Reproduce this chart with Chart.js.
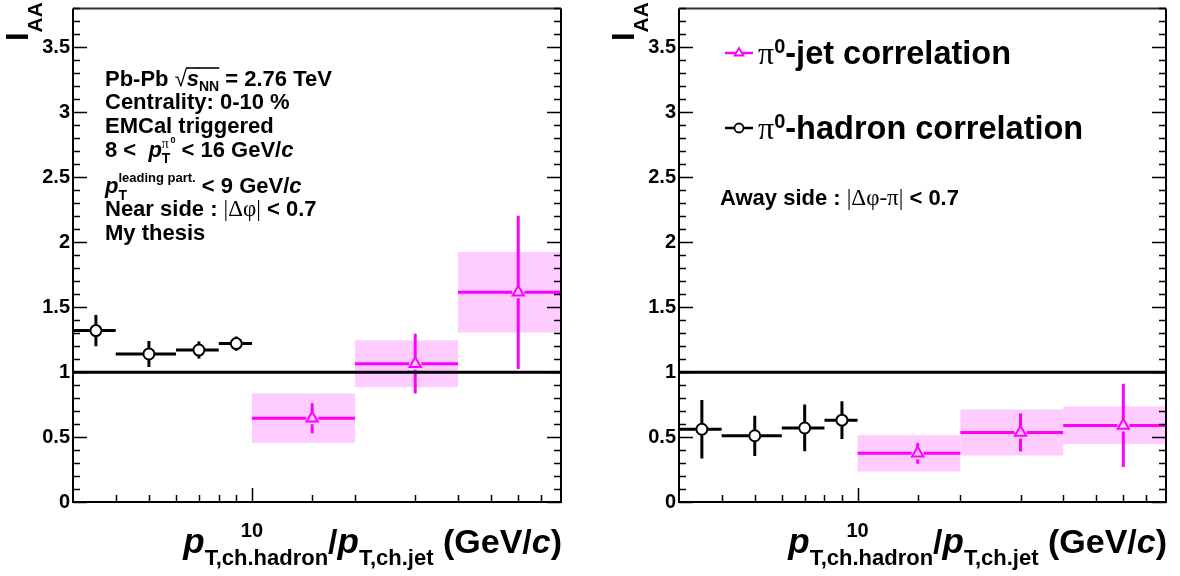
<!DOCTYPE html>
<html><head><meta charset="utf-8">
<script src="https://cdn.jsdelivr.net/npm/chart.js@4.4.0/dist/chart.umd.min.js"></script>
<style>
html,body{margin:0;padding:0;background:#fff;}
#wrap{position:relative;width:1180px;height:576px;overflow:hidden;background:#fff;}
canvas{position:absolute;top:0;}
</style></head><body>
<div id="wrap">
<canvas id="c1" width="606" height="576" style="left:0"></canvas>
<canvas id="c2" width="574" height="576" style="left:606px"></canvas>
</div>
<script>
// ---------------- data ----------------
const X_MIN = 3, X_MAX = 80;
const Y_MIN = 0, Y_MAX = 3.8;
const Y_TICK_STEP = 0.5;
const REF_LEVEL = 1;

// pi0-hadron correlation bins (pT,ch.hadron)
const hadronLo = [3, 4, 6, 8];
const hadronHi = [4, 6, 8, 10];
const hadronX  = [3.5, 5, 7, 9];
const nearHadronY   = [1.32, 1.14, 1.17, 1.22];
const nearHadronErr = [0.12, 0.10, 0.065, 0.055];
const awayHadronY   = [0.56, 0.51, 0.57, 0.63];
const awayHadronErr = [0.225, 0.155, 0.18, 0.145];

// pi0-jet correlation bins (pT,ch.jet)
const jetLo = [10, 20, 40];
const jetHi = [20, 40, 80];
const jetX  = [15, 30, 60];
const nearJetY    = [0.645, 1.065, 1.615];
const nearJetStat = [0.115, 0.23, 0.59];
const nearJetSys  = [0.19, 0.18, 0.31];
const awayJetY    = [0.375, 0.535, 0.59];
const awayJetStat = [0.08, 0.147, 0.32];
const awayJetSys  = [0.14, 0.177, 0.145];

// ---------------- styles ----------------
const SANS = '"Liberation Sans", Arial, Helvetica, sans-serif';
const SERIF = '"Liberation Serif", "Times New Roman", serif';
const fB  = s => `bold ${s}px ${SANS}`;
const fBI = s => `italic bold ${s}px ${SANS}`;
const fS  = s => `${s}px ${SERIF}`;
const MAGENTA = '#ff00ff';
const PINK = 'rgb(255,204,255)';

function layoutRich(ctx, segs) {
  let cx = 0, pending = null; const items = [];
  for (const s of segs) {
    ctx.font = s.font;
    const w = ctx.measureText(s.t).width;
    const x0 = pending ? pending.x : cx;
    items.push(Object.assign({}, s, {x: x0, w}));
    if (s.stack) { pending = {x: x0, w}; }
    else { cx = x0 + (pending ? Math.max(pending.w, w) : w); pending = null; }
  }
  return {items, width: cx};
}
function drawRich(ctx, x, y, segs, o = {}) {
  ctx.save();
  ctx.translate(x, y);
  if (o.rotate) ctx.rotate(o.rotate);
  ctx.fillStyle = o.color || '#000';
  ctx.strokeStyle = o.color || '#000';
  ctx.textBaseline = 'alphabetic'; ctx.textAlign = 'left';
  const L = layoutRich(ctx, segs);
  const off = o.align === 'right' ? -L.width : 0;
  for (const it of L.items) {
    ctx.font = it.font;
    ctx.fillText(it.t, off + it.x, it.dy || 0);
    if (it.ol !== undefined) {
      ctx.lineWidth = 1.6; ctx.beginPath();
      ctx.moveTo(off + it.x - 1, it.ol); ctx.lineTo(off + it.x + it.w, it.ol); ctx.stroke();
    }
  }
  ctx.restore();
}

// error bars + systematic boxes, drawn through the chart scales
const errPlugin = {
  id: 'errbars',
  beforeDatasetsDraw(chart) {
    const {ctx, chartArea: a, scales: {x, y}} = chart;
    ctx.save();
    ctx.beginPath(); ctx.rect(a.left, a.top, a.width, a.height); ctx.clip();
    chart.data.datasets.forEach(ds => {
      const e = ds.errorBars; if (!e || !e.sys) return;
      ds.data.forEach((d, i) => {
        const x0 = x.getPixelForValue(e.lo[i]), x1 = x.getPixelForValue(e.hi[i]);
        const y0 = y.getPixelForValue(d.y + e.sys[i]), y1 = y.getPixelForValue(d.y - e.sys[i]);
        ctx.fillStyle = e.boxColor; ctx.fillRect(x0, y0, x1 - x0, y1 - y0);
      });
    });
    chart.data.datasets.forEach(ds => {
      const e = ds.errorBars; if (!e) return;
      ctx.strokeStyle = e.color; ctx.lineWidth = 3; ctx.lineCap = 'butt';
      ds.data.forEach((d, i) => {
        const px = x.getPixelForValue(d.x), py = y.getPixelForValue(d.y);
        const xl = x.getPixelForValue(e.lo[i]), xh = x.getPixelForValue(e.hi[i]);
        const yt = y.getPixelForValue(d.y + e.err[i]), yb = y.getPixelForValue(d.y - e.err[i]);
        const g = e.gap;
        ctx.beginPath();
        ctx.moveTo(xl, py); ctx.lineTo(px - g, py);
        ctx.moveTo(px + g, py); ctx.lineTo(xh, py);
        if (yt < py - g) { ctx.moveTo(px, yt); ctx.lineTo(px, py - g); }
        if (yb > py + g) { ctx.moveTo(px, py + g); ctx.lineTo(px, yb); }
        ctx.stroke();
      });
    });
    ctx.restore();
  }
};

// ROOT-like frame, inward ticks, titles and annotations
const framePlugin = {
  id: 'rootframe',
  afterDraw(chart, args, opts) {
    const {ctx, chartArea: a, scales: {x, y}} = chart;
    ctx.save();
    ctx.strokeStyle = '#000'; ctx.lineWidth = 2;
    ctx.beginPath();
    ctx.moveTo(a.left, a.top); ctx.lineTo(a.left, a.bottom); ctx.lineTo(a.right, a.bottom); ctx.lineTo(a.right, a.top);
    ctx.stroke();
    ctx.strokeStyle = '#333';
    ctx.beginPath(); ctx.moveTo(a.left, a.top); ctx.lineTo(a.right, a.top); ctx.stroke();
    // y ticks (major every 0.5, minor every 0.1), both sides
    ctx.strokeStyle = '#000'; ctx.lineWidth = 1.5;
    ctx.beginPath();
    for (let k = 0; k <= Math.round((y.max - y.min) / 0.1); k++) {
      const v = y.min + k * 0.1;
      const py = Math.round(y.getPixelForValue(v)) + 0.5;
      const major = k % 5 === 0;
      const len = major ? 14 : 7;
      ctx.moveTo(a.left, py); ctx.lineTo(a.left + len, py);
      ctx.moveTo(a.right, py); ctx.lineTo(a.right - len, py);
    }
    // x ticks from the log scale
    x.ticks.forEach(t => {
      const v = t.value;
      if (v <= x.min || v >= x.max) return;
      const px = Math.round(x.getPixelForValue(v)) + 0.5;
      const len = (Math.abs(v - 10) < 1e-9) ? 14 : 7;
      ctx.moveTo(px, a.bottom); ctx.lineTo(px, a.bottom - len);
    });
    ctx.stroke();
    ctx.restore();

    // y title
    drawRich(ctx, 28, 41, [
      {t: 'I', font: fB(31)},
      {t: 'AA', font: fB(21), dy: 14}
    ], {rotate: -Math.PI / 2});
    // x title
    drawRich(ctx, a.right + 1, 553, [
      {t: 'p', font: fBI(35)},
      {t: 'T,ch.hadron', font: fB(22), dy: 12},
      {t: '/', font: fB(34)},
      {t: 'p', font: fBI(35)},
      {t: 'T,ch.jet', font: fB(22), dy: 12},
      {t: ' (GeV/', font: fB(34)},
      {t: 'c', font: fBI(34)},
      {t: ')', font: fB(34)}
    ], {align: 'right'});

    (opts.texts || []).forEach(tx => drawRich(ctx, tx.x, tx.y, tx.segs, {color: tx.color}));

    if (opts.legend) {
      opts.legend.forEach(L => {
        ctx.save();
        ctx.strokeStyle = L.color; ctx.lineWidth = 2.5;
        ctx.beginPath(); ctx.moveTo(L.x0, L.y); ctx.lineTo(L.x1, L.y); ctx.stroke();
        const cx = (L.x0 + L.x1) / 2;
        ctx.lineWidth = 1.8;
        if (L.marker === 'triangle') {
          const r = 5;
          ctx.fillStyle = '#fff';
          ctx.beginPath();
          ctx.moveTo(cx, L.y - r); ctx.lineTo(cx + r * 0.87, L.y + r * 0.5); ctx.lineTo(cx - r * 0.87, L.y + r * 0.5); ctx.closePath();
          ctx.fill(); ctx.stroke();
        } else {
          ctx.fillStyle = '#fff';
          ctx.beginPath(); ctx.arc(cx, L.y, 4.5, 0, Math.PI * 2); ctx.fill(); ctx.stroke();
        }
        ctx.restore();
        drawRich(ctx, L.tx, L.ty, L.segs);
      });
    }
  }
};

function makeChart(id, canvasW, rightEdge, hadY, hadErr, jY, jStat, jSys, pluginOpts) {
  const datasets = [
    {
      type: 'line', label: 'ref',
      data: [{x: X_MIN, y: REF_LEVEL}, {x: X_MAX, y: REF_LEVEL}],
      borderColor: '#000', borderWidth: 3, pointRadius: 0, order: 3
    },
    {
      type: 'scatter', label: 'π0-hadron correlation',
      data: hadronX.map((v, i) => ({x: v, y: hadY[i]})),
      errorBars: {lo: hadronLo, hi: hadronHi, err: hadErr, color: '#000', gap: 6},
      pointStyle: 'circle', pointRadius: 5.5, pointBorderWidth: 2,
      pointBorderColor: '#000', pointBackgroundColor: '#fff', order: 1
    },
    {
      type: 'scatter', label: 'π0-jet correlation',
      data: jetX.map((v, i) => ({x: v, y: jY[i]})),
      errorBars: {lo: jetLo, hi: jetHi, err: jStat, sys: jSys, color: MAGENTA, boxColor: PINK, gap: 6},
      pointStyle: 'triangle', pointRadius: 6.5, pointBorderWidth: 2,
      pointBorderColor: MAGENTA, pointBackgroundColor: 'rgba(0,0,0,0)', order: 2
    }
  ];
  return new Chart(document.getElementById(id), {
    data: {datasets},
    plugins: [errPlugin, framePlugin],
    options: {
      responsive: false, animation: false, devicePixelRatio: 1,
      layout: {padding: {left: 0, top: 4, right: canvasW - rightEdge, bottom: 0}},
      plugins: {legend: {display: false}, tooltip: {enabled: false}, rootframe: pluginOpts},
      scales: {
        x: {
          type: 'logarithmic', position: 'bottom', min: X_MIN, max: X_MAX,
          grid: {display: false, drawTicks: false}, border: {display: false},
          ticks: {
            autoSkip: false, maxRotation: 0, padding: 17, color: '#000',
            font: {family: SANS, weight: 'bold', size: 20},
            callback: v => (Math.abs(v - 10) < 1e-9 ? '10' : '')
          },
          afterFit: s => { s.height = 74; s.paddingLeft = 0; s.paddingRight = 0; }
        },
        y: {
          type: 'linear', min: Y_MIN, max: Y_MAX,
          grid: {display: false, drawTicks: false}, border: {display: false},
          ticks: {
            stepSize: Y_TICK_STEP, padding: 3, color: '#000',
            font: {family: SANS, weight: 'bold', size: 20},
            callback: v => {
              const r = v / Y_TICK_STEP;
              return Math.abs(r - Math.round(r)) < 1e-6 && v <= Y_MAX ? String(Math.round(v * 10) / 10) : '';
            }
          },
          afterFit: s => { s.width = 73; s.paddingTop = 0; s.paddingBottom = 0; }
        }
      }
    }
  });
}

const T = 22, TS = 14;
makeChart('c1', 606, 561, nearHadronY, nearHadronErr, nearJetY, nearJetStat, nearJetSys, {
  texts: [
    {x: 105, y: 86, segs: [
      {t: 'Pb-Pb ', font: fB(T)}, {t: '√', font: `${T}px ${SANS}`},
      {t: 's', font: fBI(T), ol: -18}, {t: 'NN', font: fB(TS), dy: 5, ol: -18},
      {t: ' = 2.76 TeV', font: fB(T)}]},
    {x: 105, y: 109, segs: [{t: 'Centrality: 0-10 %', font: fB(T)}]},
    {x: 105, y: 133, segs: [{t: 'EMCal triggered', font: fB(T)}]},
    {x: 105, y: 157, segs: [
      {t: '8 <  ', font: fB(T)}, {t: 'p', font: fBI(T)},
      {t: 'T', font: fB(TS), dy: 6, stack: true}, {t: 'π', font: fS(14), dy: -9},
      {t: '0', font: fB(9), dy: -14},
      {t: ' < 16 GeV/', font: fB(T)}, {t: 'c', font: fBI(T)}]},
    {x: 105, y: 193, segs: [
      {t: 'p', font: fBI(T)},
      {t: 'T', font: fB(TS), dy: 7, stack: true}, {t: 'leading part.', font: fB(13), dy: -11},
      {t: ' < 9 GeV/', font: fB(T)}, {t: 'c', font: fBI(T)}]},
    {x: 105, y: 216, segs: [
      {t: 'Near side : ', font: fB(T)}, {t: '|Δφ|', font: fS(T + 1)}, {t: ' < 0.7', font: fB(T)}]},
    {x: 105, y: 240, segs: [{t: 'My thesis', font: fB(T)}]}
  ]
});
makeChart('c2', 574, 560, awayHadronY, awayHadronErr, awayJetY, awayJetStat, awayJetSys, {
  texts: [
    {x: 114, y: 205, segs: [
      {t: 'Away side : ', font: fB(T)}, {t: '|Δφ-π|', font: fS(T + 1)}, {t: ' < 0.7', font: fB(T)}]}
  ],
  legend: [
    {x0: 119, x1: 147, y: 53, color: MAGENTA, marker: 'triangle', tx: 152, ty: 64, segs: [
      {t: 'π', font: fS(32)}, {t: '0', font: fB(20), dy: -11}, {t: '-jet correlation', font: fB(32.5)}]},
    {x0: 119, x1: 147, y: 128, color: '#000', marker: 'circle', tx: 152, ty: 139, segs: [
      {t: 'π', font: fS(32)}, {t: '0', font: fB(20), dy: -11}, {t: '-hadron correlation', font: fB(32.5)}]}
  ]
});
</script>
</body></html>
